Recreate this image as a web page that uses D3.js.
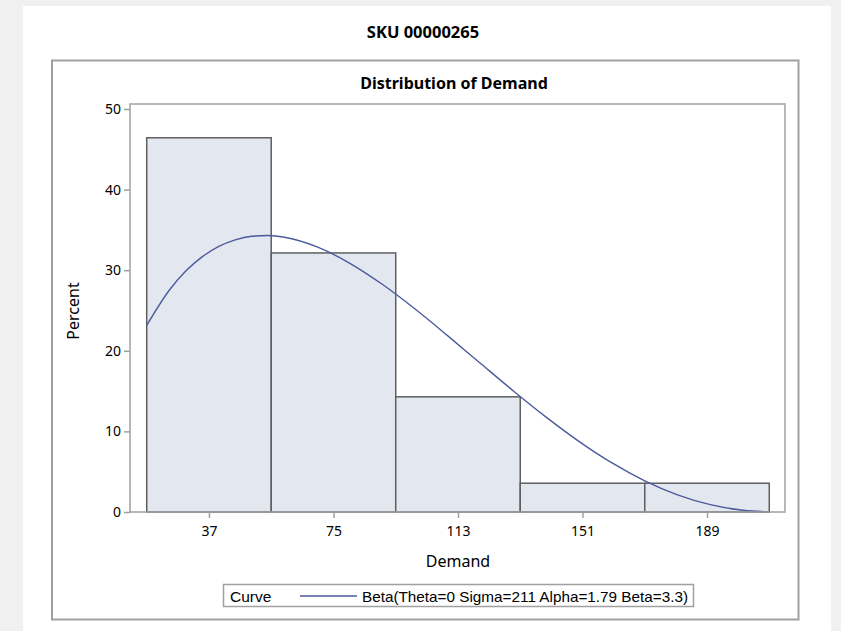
<!DOCTYPE html>
<html><head><meta charset="utf-8">
<script src="https://cdn.jsdelivr.net/npm/d3@7"></script>
<style>
html,body{margin:0;padding:0;background:#f0f0f0;}
svg{display:block;}
</style></head>
<body>
<script>
// ---- data ----
const binMids = [37, 75, 113, 151, 189];
const binWidth = 38;
const percents = [46.43, 32.14, 14.29, 3.57, 3.57];
const yTicks = [0, 10, 20, 30, 40, 50];
const xTicks = [37, 75, 113, 151, 189];
const curveX = [18, 25, 30, 35, 40, 45, 50, 55, 60, 70, 80, 90, 100, 110, 120, 130, 140, 150, 160, 170, 180, 190, 200, 208];
const curveY = [23.16, 27.58, 29.92, 31.68, 32.95, 33.77, 34.21, 34.30, 34.09, 32.89, 30.86, 28.22, 25.15, 21.82, 18.39, 14.99, 11.74, 8.74, 6.09, 3.87, 2.13, 0.91, 0.21, 0.01];
const title = "SKU 00000265";
const subtitle = "Distribution of Demand";
const xLabel = "Demand";
const yLabel = "Percent";
const legendTitle = "Curve";
const legendText = "Beta(Theta=0 Sigma=211 Alpha=1.79 Beta=3.3)";

const W = 841, H = 631;
const svg = d3.select("body").append("svg").attr("width", W).attr("height", H);
svg.append("rect").attr("x", 0).attr("y", 0).attr("width", W).attr("height", H).attr("fill", "#f0f0f0");
svg.append("rect").attr("x", 23).attr("y", 6).attr("width", 808).attr("height", 625).attr("fill", "#ffffff");

// outer frame
svg.append("rect").attr("x", 52).attr("y", 60.5).attr("width", 746.5).attr("height", 559)
  .attr("fill", "none").attr("stroke", "#a0a0a0").attr("stroke-width", 2);

const font = "'Noto Sans', 'Open Sans', sans-serif";
svg.append("text").attr("x", 423).attr("y", 38).attr("text-anchor", "middle")
  .attr("font-family", font).attr("font-weight", "bold").attr("font-size", 16.5).attr("fill", "#000")
  .text(title);
svg.append("text").attr("x", 454).attr("y", 89).attr("text-anchor", "middle")
  .attr("font-family", font).attr("font-weight", "bold").attr("font-size", 16).attr("fill", "#000")
  .text(subtitle);

const L = 130, R = 785, T = 104, B = 512;
const x = d3.scaleLinear().domain([12.9, 212.8]).range([L, R]);
const y = d3.scaleLinear().domain([0, 50]).range([B, 109]);

// bars
const g = svg.append("g");
g.selectAll("rect.bar").data(binMids).enter().append("rect")
  .attr("class", "bar")
  .attr("x", (d) => x(d - binWidth / 2))
  .attr("y", (d, i) => y(percents[i]))
  .attr("width", (d) => x(d + binWidth / 2) - x(d - binWidth / 2))
  .attr("height", (d, i) => y(0) - y(percents[i]))
  .attr("fill", "#e3e7f0").attr("stroke", "#5f5f5f").attr("stroke-width", 1.5);

// curve
const line = d3.line().x((d, i) => x(curveX[i])).y((d) => y(d)).curve(d3.curveMonotoneX);
g.append("path").datum(curveY).attr("d", line)
  .attr("fill", "none").attr("stroke", "#4b5a9c").attr("stroke-width", 1.4);

// plot frame
svg.append("rect").attr("x", L).attr("y", T).attr("width", R - L).attr("height", B - T)
  .attr("fill", "none").attr("stroke", "#a0a0a0").attr("stroke-width", 1.5);

// axes
const yAxis = d3.axisLeft(y).tickValues(yTicks).tickSize(6).tickPadding(3);
const ya = svg.append("g").attr("transform", `translate(${L},0)`).call(yAxis);
const xAxis = d3.axisBottom(x).tickValues(xTicks).tickSize(6).tickPadding(8);
const xa = svg.append("g").attr("transform", `translate(0,${B})`).call(xAxis);
[ya, xa].forEach((a) => {
  a.attr("font-size", null).attr("font-family", null);
  a.select(".domain").remove();
  a.selectAll(".tick line").attr("stroke", "#a0a0a0").attr("stroke-width", 1.5);
  a.selectAll(".tick text").style("font-family", font).style("font-size", "14px").attr("fill", "#000");
});

svg.append("text").attr("x", 458).attr("y", 567).attr("text-anchor", "middle")
  .attr("font-family", font).attr("font-size", 16).attr("fill", "#000").text(xLabel);
svg.append("text").attr("transform", "translate(79,311) rotate(-90)").attr("text-anchor", "middle")
  .attr("font-family", font).attr("font-size", 16).attr("fill", "#000").text(yLabel);

// legend
const lg = svg.append("g");
lg.append("rect").attr("x", 223.5).attr("y", 584.5).attr("width", 470).attr("height", 22)
  .attr("fill", "#fff").attr("stroke", "#a0a0a0").attr("stroke-width", 1.5);
lg.append("text").attr("x", 230).attr("y", 601.5).attr("font-family", "'Liberation Sans', Arial, sans-serif")
  .attr("font-size", 15.5).attr("fill", "#000").text(legendTitle);
lg.append("line").attr("x1", 300).attr("x2", 357).attr("y1", 596).attr("y2", 596)
  .attr("stroke", "#4b5a9c").attr("stroke-width", 1.4);
lg.append("text").attr("x", 362).attr("y", 601.5).attr("font-family", "'Liberation Sans', Arial, sans-serif")
  .attr("font-size", 14.5).attr("textLength", 326).attr("lengthAdjust", "spacingAndGlyphs")
  .attr("fill", "#000").text(legendText);
</script>
</body></html>
